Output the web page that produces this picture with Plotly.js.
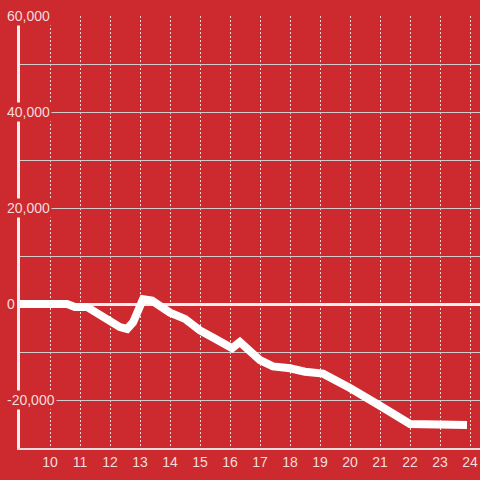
<!DOCTYPE html>
<html>
<head>
<meta charset="utf-8">
<script src="https://cdn.plot.ly/plotly-3.0.1.min.js"></script>
<style>
  html, body { margin: 0; padding: 0; background: #cc2a2e; }
  #chart { width: 480px; height: 480px; }
</style>
</head>
<body>
<div id="chart"></div>
<script>
// Data
const hours = [9.0, 10.57, 10.83, 11.23, 12.33, 12.57, 12.77, 13.1, 13.4, 14.0, 14.5, 15.0, 15.43, 16.0, 16.07, 16.33, 17.0, 17.43, 17.77, 18.0, 18.5, 19.1, 20.0, 20.6, 21.0, 22.0, 23.9];
const values = [0, 0, -600, -600, -4800, -5200, -3800, 1000, 700, -1800, -3100, -5500, -7000, -8900, -9200, -7900, -11700, -13000, -13200, -13400, -14100, -14500, -17500, -19500, -21200, -25000, -25200];
const yTickValues = [60000, 40000, 20000, 0, -20000];
const yTickLabels = ["60,000", "40,000", "20,000", "0", "-20,000"];
const xTickValues = [10, 11, 12, 13, 14, 15, 16, 17, 18, 19, 20, 21, 22, 23, 24];

const BG = '#cc2a2e';
const TXT = '#f3dcdc';

const annotations = yTickValues.map((v, i) => ({
  xref: 'paper', yref: 'y', x: 0, y: v,
  xanchor: 'left', yanchor: 'middle', xshift: -15,
  text: yTickLabels[i], showarrow: false,
  bgcolor: BG, borderpad: 1,
  font: { family: 'Liberation Sans, Arial, sans-serif', size: 14, color: TXT }
}));

Plotly.newPlot('chart', [{
  x: hours, y: values, type: 'scatter', mode: 'lines',
  line: { color: '#ffffff', width: 8 },
  hoverinfo: 'skip'
}], {
  width: 480, height: 480,
  paper_bgcolor: BG, plot_bgcolor: BG,
  margin: { l: 20, r: 0, t: 16, b: 32, pad: 0 },
  showlegend: false,
  font: { family: 'Liberation Sans, Arial, sans-serif', size: 14, color: TXT },
  xaxis: {
    range: [9, 24.3333], tickvals: xTickValues, ticktext: xTickValues.map(String),
    showgrid: true, gridcolor: '#f0dada', gridwidth: 1, griddash: '2px,2px',
    zeroline: false, showline: true, linecolor: '#dddddd', linewidth: 2,
    ticks: '', tickfont: { size: 14, color: TXT }, fixedrange: true
  },
  yaxis: {
    range: [-30000, 60000], dtick: 10000, tick0: 0,
    showgrid: true, gridcolor: '#d4cccc', gridwidth: 1,
    zeroline: true, zerolinecolor: '#eeeeee', zerolinewidth: 3,
    showline: true, linecolor: '#eeeeee', linewidth: 3,
    showticklabels: false, ticks: '', fixedrange: true
  },
  annotations: annotations
}, { displayModeBar: false, staticPlot: true });
</script>
</body>
</html>
